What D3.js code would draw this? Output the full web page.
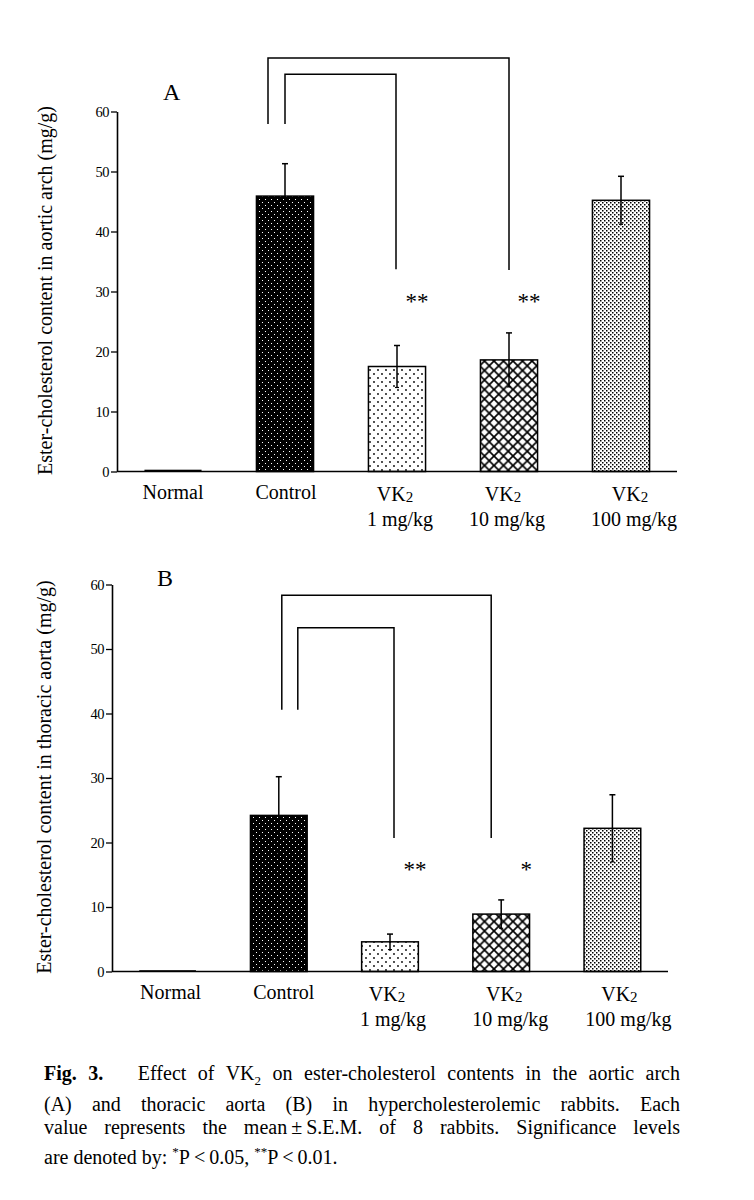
<!DOCTYPE html>
<html>
<head>
<meta charset="utf-8">
<script src="https://cdn.jsdelivr.net/npm/d3@7/dist/d3.min.js"></script>
<style>
  body { margin: 0; background: #fff; }
  #fig { position: relative; width: 754px; height: 1200px; }
  #fig svg { position: absolute; left: 0; top: 0; }
  #caption {
    position: absolute; left: 44px; top: 1062px; width: 636px;
    font-family: "Liberation Serif", "Times New Roman", serif;
    font-size: 20px; line-height: 23.5px; color: #000;
  }
  #caption .j { text-align: justify; text-align-last: justify; }
</style>
</head>
<body>
<div id="fig"></div>
<script>
// values (mean and S.E.M., mg/g)
const groups = ["Normal", "Control", "VK2 1 mg/kg", "VK2 10 mg/kg", "VK2 100 mg/kg"];
const meanA = [0.3, 45.9, 17.5, 18.6, 45.2];
const semA = [0, 5.4, 3.5, 4.5, 4.0];
const meanB = [0.2, 24.2, 4.6, 8.9, 22.2];
const semB = [0, 6.0, 1.2, 2.2, 5.2];
const yTicks = [0, 10, 20, 30, 40, 50, 60];
const starsA = ["", "", "**", "**", ""];
const starsB = ["", "", "**", "*", ""];
// significance brackets: comparison and the heights (in axis units) of their ends
const bracketsA = [
  { from: "Control", to: "VK2 10 mg/kg", top: 68.9, lowL: 57.9, lowR: 33.6, dxL: -17, dxR: 0 },
  { from: "Control", to: "VK2 1 mg/kg", top: 66.2, lowL: 57.9, lowR: 33.7, dxL: 0, dxR: -1 }
];
const bracketsB = [
  { from: "Control", to: "VK2 10 mg/kg", top: 58.35, lowL: 40.6, lowR: 20.7, dxL: 3, dxR: -10 },
  { from: "Control", to: "VK2 1 mg/kg", top: 53.3, lowL: 40.6, lowR: 20.7, dxL: 19, dxR: 4 }
];

const FONT = '"Liberation Serif", "Times New Roman", serif';

const svg = d3.select("#fig").append("svg")
  .attr("width", 754)
  .attr("height", 1200);

// fill patterns for the bars
const defs = svg.append("defs");

const pControl = defs.append("pattern").attr("id", "pControl")
  .attr("patternUnits", "userSpaceOnUse").attr("width", 6).attr("height", 6);
pControl.append("rect").attr("width", 6).attr("height", 6).attr("fill", "#000");
pControl.append("rect").attr("x", 1).attr("y", 1).attr("width", 1).attr("height", 1).attr("fill", "#fff");
pControl.append("rect").attr("x", 4).attr("y", 4).attr("width", 1).attr("height", 1).attr("fill", "#fff");

const pLow = defs.append("pattern").attr("id", "pLow")
  .attr("patternUnits", "userSpaceOnUse").attr("width", 8).attr("height", 8);
pLow.append("rect").attr("width", 8).attr("height", 8).attr("fill", "#fff");
pLow.append("circle").attr("cx", 2).attr("cy", 2).attr("r", 0.9).attr("fill", "#000");
pLow.append("circle").attr("cx", 6).attr("cy", 6).attr("r", 0.9).attr("fill", "#000");

const pMid = defs.append("pattern").attr("id", "pMid")
  .attr("patternUnits", "userSpaceOnUse").attr("width", 9.5).attr("height", 9.5);
pMid.append("rect").attr("width", 9.5).attr("height", 9.5).attr("fill", "#fff");
pMid.append("path").attr("d", "M0,0L9.5,9.5M9.5,0L0,9.5")
  .attr("stroke", "#000").attr("stroke-width", 1.7);

const pHigh = defs.append("pattern").attr("id", "pHigh")
  .attr("patternUnits", "userSpaceOnUse").attr("width", 4).attr("height", 4);
pHigh.append("rect").attr("width", 4).attr("height", 4).attr("fill", "#fff");
pHigh.append("rect").attr("x", 0).attr("y", 0).attr("width", 1.5).attr("height", 1.5).attr("fill", "#000");
pHigh.append("rect").attr("x", 2).attr("y", 2).attr("width", 1.5).attr("height", 1.5).attr("fill", "#000");

const fills = ["#000", "url(#pControl)", "url(#pLow)", "url(#pMid)", "url(#pHigh)"];

const drawPanel = (cfg) => {
  const g = svg.append("g");

  const x = d3.scaleBand()
    .domain(groups)
    .range([cfg.x0, cfg.x1])
    .paddingInner(0.49)
    .paddingOuter(0.245);

  const y = d3.scaleLinear().domain([0, 60]).range([cfg.yBottom, cfg.yTop]);

  const rows = groups.map((k, i) => ({
    key: k, mean: cfg.mean[i], sem: cfg.sem[i], star: cfg.stars[i], fill: fills[i],
    dx1: cfg.labelDx1[i], dx2: cfg.labelDx2[i]
  }));

  // bars
  g.selectAll(".bar")
    .data(rows)
  .enter().append("rect")
    .attr("class", "bar")
    .attr("x", d => x(d.key))
    .attr("width", x.bandwidth())
    .attr("y", d => y(d.mean))
    .attr("height", d => y(0) - y(d.mean))
    .attr("fill", d => d.fill)
    .attr("stroke", "#000")
    .attr("stroke-width", d => d.key === "Normal" ? 0 : 1.5);

  // error bars (mean +- sem)
  const eb = g.selectAll(".err")
    .data(rows.filter(d => d.sem > 0))
  .enter().append("g")
    .attr("class", "err");
  eb.append("line")
    .attr("x1", d => x(d.key) + x.bandwidth() / 2)
    .attr("x2", d => x(d.key) + x.bandwidth() / 2)
    .attr("y1", d => y(d.mean - d.sem))
    .attr("y2", d => y(d.mean + d.sem))
    .attr("stroke", "#000").attr("stroke-width", 1.5);
  eb.append("line")
    .attr("x1", d => x(d.key) + x.bandwidth() / 2 - 3)
    .attr("x2", d => x(d.key) + x.bandwidth() / 2 + 3)
    .attr("y1", d => y(d.mean + d.sem))
    .attr("y2", d => y(d.mean + d.sem))
    .attr("stroke", "#000").attr("stroke-width", 1.5);
  eb.append("line")
    .attr("x1", d => x(d.key) + x.bandwidth() / 2 - 2)
    .attr("x2", d => x(d.key) + x.bandwidth() / 2 + 2)
    .attr("y1", d => y(d.mean - d.sem))
    .attr("y2", d => y(d.mean - d.sem))
    .attr("stroke", "#000").attr("stroke-width", 1.2);

  // y axis
  const yAxis = d3.axisLeft(y).tickValues(yTicks).tickSize(6).tickSizeOuter(0).tickPadding(2);
  const ax = g.append("g")
    .attr("transform", `translate(${cfg.x0},0)`)
    .call(yAxis);
  ax.select(".domain").attr("stroke-width", 1.6);
  ax.selectAll(".tick line").attr("stroke-width", 1.3);
  ax.selectAll(".tick text")
    .attr("font-family", FONT).attr("font-size", 14.5).attr("fill", "#000")
    .attr("letter-spacing", "-0.5px");

  // baseline
  g.append("line")
    .attr("x1", cfg.x0).attr("x2", cfg.x1)
    .attr("y1", y(0)).attr("y2", y(0))
    .attr("stroke", "#000").attr("stroke-width", 1.6);

  // category labels
  rows.forEach(d => {
    const cx = x(d.key) + x.bandwidth() / 2;
    if (d.key.startsWith("VK2")) {
      const t = g.append("text")
        .attr("x", cx + d.dx1).attr("y", y(0) + 29)
        .attr("text-anchor", "middle")
        .attr("font-family", FONT).attr("font-size", 20);
      t.append("tspan").text("VK");
      t.append("tspan").attr("font-size", 15).attr("dy", 1).text("2");
      g.append("text")
        .attr("x", cx + d.dx2).attr("y", y(0) + 54)
        .attr("text-anchor", "middle")
        .attr("font-family", FONT).attr("font-size", 20)
        .text(d.key.slice(4));
    } else {
      g.append("text")
        .attr("x", cx + d.dx1).attr("y", y(0) + 27)
        .attr("text-anchor", "middle")
        .attr("font-family", FONT).attr("font-size", 20)
        .text(d.key);
    }
  });

  // significance stars
  g.selectAll(".star")
    .data(rows.filter(d => d.star))
  .enter().append("text")
    .attr("class", "star")
    .attr("x", d => x(d.key) + x.bandwidth() / 2 + cfg.starDx)
    .attr("y", cfg.starY)
    .attr("text-anchor", "middle")
    .attr("font-family", FONT).attr("font-size", 23)
    .text(d => d.star);

  // brackets
  cfg.brackets.forEach(b => {
    const xl = x(b.from) + x.bandwidth() / 2 + b.dxL;
    const xr = x(b.to) + x.bandwidth() / 2 + b.dxR;
    g.append("path")
      .attr("d", `M${xl},${y(b.lowL)}V${y(b.top)}H${xr}V${y(b.lowR)}`)
      .attr("fill", "none")
      .attr("stroke", "#000").attr("stroke-width", 1.5);
  });

  // y axis title
  g.append("text")
    .attr("transform", `translate(${cfg.titleX},${(y(0) + y(60)) / 2 - 1}) rotate(-90)`)
    .attr("text-anchor", "middle")
    .attr("font-family", FONT).attr("font-size", 20)
    .text(cfg.title);

  // panel letter
  g.append("text")
    .attr("x", cfg.letterX).attr("y", cfg.letterY)
    .attr("font-family", FONT).attr("font-size", 24)
    .text(cfg.letter);
};

drawPanel({
  mean: meanA, sem: semA, stars: starsA, brackets: bracketsA,
  x0: 117, x1: 677, yBottom: 471.5, yTop: 111.5,
  labelDx1: [0, 1, -2, -6, 9], labelDx2: [0, 0, 3, -2, 13],
  starDx: 20, starY: 309,
  titleX: 52, title: "Ester-cholesterol content in aortic arch (mg/g)",
  letter: "A", letterX: 163, letterY: 100
});

drawPanel({
  mean: meanB, sem: semB, stars: starsB, brackets: bracketsB,
  x0: 112, x1: 668, yBottom: 971.5, yTop: 584.5,
  labelDx1: [3, 5, -3, 3, 7], labelDx2: [0, 0, 3, 9, 16],
  starDx: 25, starY: 877,
  titleX: 51, title: "Ester-cholesterol content in thoracic aorta (mg/g)",
  letter: "B", letterX: 157, letterY: 586
});

// caption
const cap = d3.select("#fig").append("div").attr("id", "caption");
const l1 = cap.append("div").attr("class", "j");
l1.append("b").text("Fig. 3.");
l1.append("span").html("&nbsp;&nbsp;&nbsp;Effect of VK<sub style=\"font-size:13px\">2</sub> on ester-cholesterol contents in the aortic arch");
cap.append("div").attr("class", "j").text("(A) and thoracic aorta (B) in hypercholesterolemic rabbits. Each");
cap.append("div").attr("class", "j").text("value represents the mean\u2009\u00b1\u2009S.E.M. of 8 rabbits. Significance levels");
cap.append("div").html("are denoted by: <sup style=\"font-size:13px\">*</sup>P\u2009&lt;\u20090.05, <sup style=\"font-size:13px\">**</sup>P\u2009&lt;\u20090.01.");
</script>
</body>
</html>
